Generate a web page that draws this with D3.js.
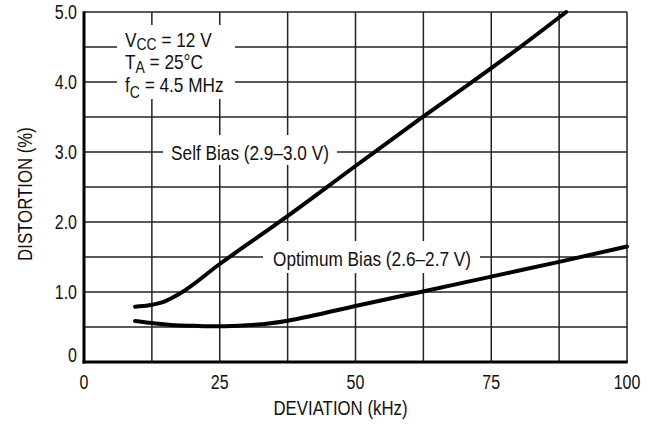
<!DOCTYPE html>
<html>
<head>
<meta charset="utf-8">
<script src="https://cdn.jsdelivr.net/npm/d3@7"></script>
<style>
  body { margin: 0; background: #fff; }
  text { font-family: "Liberation Sans", Arial, sans-serif; fill: #111; }
</style>
</head>
<body>
<svg></svg>
<script>
const width = 660,
  height = 425
const squeeze = 0.82 // narrow face, as in the original

// deviation (kHz) vs distortion (%)
const selfBias = [
  [9.4, 0.79], [12, 0.81], [15, 0.87], [17.5, 0.97], [25, 1.4], [36.5, 2.03],
  [50, 2.8], [62, 3.48], [72, 4.03], [80.5, 4.51], [88.8, 5.0]
]
const optimumBias = [
  [9.4, 0.585], [12, 0.56], [16, 0.53], [21, 0.515], [25, 0.51], [30, 0.525],
  [34, 0.55], [37.5, 0.59], [42, 0.66], [50, 0.8], [62, 1.0], [75, 1.22],
  [87.5, 1.43], [100, 1.65]
]
const xTicks = [0, 25, 50, 75, 100]
const yTicks = [0, 1, 2, 3, 4, 5]
const xGrid = d3.range(0, 100.1, 12.5)
const yGrid = d3.range(0, 5.01, 0.5)

const margin = { left: 84, right: 33, top: 12, bottom: 63 }
const x = d3.scaleLinear().domain([0, 100]).range([margin.left, width - margin.right])
const y = d3.scaleLinear().domain([0, 5]).range([height - margin.bottom, margin.top])

const svg = d3.select("svg").attr("width", width).attr("height", height)

const grid = svg.append("g").attr("stroke", "#222").attr("stroke-width", 1.5)
grid.selectAll(".v")
  .data(xGrid)
  .enter()
  .append("line")
  .attr("x1", d => x(d)).attr("x2", d => x(d))
  .attr("y1", y(0)).attr("y2", y(5))
grid.selectAll(".h")
  .data(yGrid)
  .enter()
  .append("line")
  .attr("x1", x(0)).attr("x2", x(100))
  .attr("y1", d => y(d)).attr("y2", d => y(d))

// white patches behind the labels
const patches = [
  { x0: 117, x1: 235, y0: 25, y1: 99 },
  { x0: 163, x1: 337, y0: 135, y1: 165 },
  { x0: 263, x1: 480, y0: 241, y1: 273 }
]
svg.selectAll(".patch")
  .data(patches)
  .enter()
  .append("rect")
  .attr("x", d => d.x0).attr("y", d => d.y0)
  .attr("width", d => d.x1 - d.x0).attr("height", d => d.y1 - d.y0)
  .attr("fill", "#fff")

// axes (heavier left / bottom)
svg.append("line")
  .attr("x1", x(0)).attr("x2", x(0)).attr("y1", y(5) - 0.75).attr("y2", y(0) + 1.5)
  .attr("stroke", "#000").attr("stroke-width", 3)
svg.append("line")
  .attr("x1", x(0) - 1.5).attr("x2", x(100) + 0.75).attr("y1", y(0)).attr("y2", y(0))
  .attr("stroke", "#000").attr("stroke-width", 3)

const line = d3.line()
  .x(d => x(d[0]))
  .y(d => y(d[1]))
  .curve(d3.curveMonotoneX)

svg.selectAll(".curve")
  .data([selfBias, optimumBias])
  .enter()
  .append("path")
  .attr("d", line)
  .attr("fill", "none")
  .attr("stroke", "#000")
  .attr("stroke-width", 4)
  .attr("stroke-linecap", "round")

const at = (px, py, rot) =>
  `translate(${px},${py})` + (rot ? ` rotate(${rot})` : "") + ` scale(${squeeze},1)`

// tick labels
svg.selectAll(".xt")
  .data(xTicks)
  .enter()
  .append("text")
  .attr("transform", d => at(x(d), 389))
  .attr("text-anchor", "middle")
  .style("font-size", "19.5px")
  .text(d => d)
svg.selectAll(".yt")
  .data(yTicks)
  .enter()
  .append("text")
  .attr("transform", d => at(x(0) - 7, d === 0 ? y(d) : y(d) + 7))
  .attr("text-anchor", "end")
  .style("font-size", "19.5px")
  .text(d => d === 0 ? "0" : d3.format(".1f")(d))

svg.append("text")
  .attr("transform", at(340.5, 415))
  .attr("text-anchor", "middle")
  .style("font-size", "20.5px")
  .text("DEVIATION (kHz)")
svg.append("text")
  .attr("transform", at(32, 194, -90))
  .attr("text-anchor", "middle")
  .style("font-size", "20.5px")
  .text("DISTORTION (%)")

// curve labels
svg.append("text")
  .attr("transform", at(250, 159.5))
  .attr("text-anchor", "middle")
  .style("font-size", "21px")
  .text("Self Bias (2.9\u20133.0 V)")
svg.append("text")
  .attr("transform", at(372, 266))
  .attr("text-anchor", "middle")
  .style("font-size", "21px")
  .text("Optimum Bias (2.6\u20132.7 V)")

// conditions
const cond = [
  { main: "V", sub: "CC", rest: " = 12 V", drop: 3, base: 47 },
  { main: "T", sub: "A", rest: " = 25\u00b0C", drop: 3.5, base: 69 },
  { main: "f", sub: "C", rest: " = 4.5 MHz", drop: 6, base: 92 }
]
const ct = svg.selectAll(".cond")
  .data(cond)
  .enter()
  .append("text")
  .attr("transform", d => at(125, d.base))
  .style("font-size", "21px")
ct.append("tspan").text(d => d.main)
ct.append("tspan").attr("dy", d => d.drop).style("font-size", "17px").text(d => d.sub)
ct.append("tspan").attr("dy", d => -d.drop).text(d => d.rest)
</script>
</body>
</html>
